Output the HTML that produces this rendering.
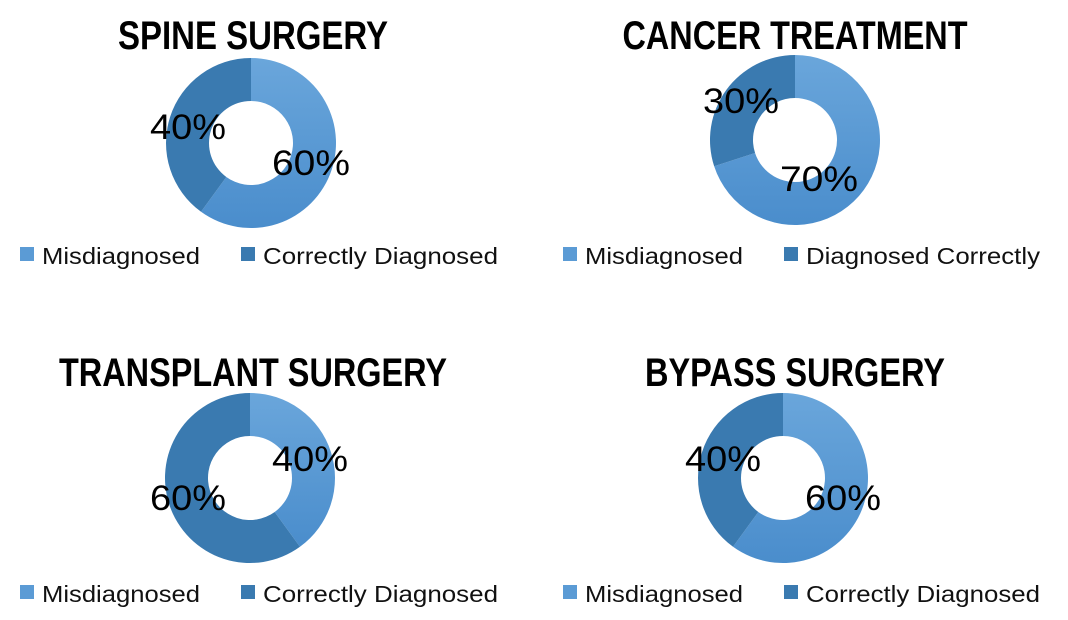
<!DOCTYPE html>
<html><head><meta charset="utf-8"><style>
html,body{margin:0;padding:0;background:#fff;}
svg{display:block}
.t{font-family:"Liberation Sans Narrow","Liberation Sans",sans-serif;font-weight:bold;font-size:40px;fill:#000;text-anchor:middle}
.p{font-family:"Liberation Sans",sans-serif;font-size:35px;fill:#000}
.l{font-family:"Liberation Sans",sans-serif;font-size:23px;fill:#111}
</style></head><body>
<svg id="s" width="1068" height="620" viewBox="0 0 1068 620" xmlns="http://www.w3.org/2000/svg">
<defs>
<linearGradient id="lg" x1="0" y1="0" x2="0" y2="1"><stop offset="0" stop-color="#6aa6db"/><stop offset="1" stop-color="#4a8dcc"/></linearGradient>
</defs>
<g id="d"></g>
<text class="t" x="253" y="49" textLength="270" lengthAdjust="spacingAndGlyphs">SPINE SURGERY</text>
<text class="t" x="795" y="49" textLength="345" lengthAdjust="spacingAndGlyphs">CANCER TREATMENT</text>
<text class="t" x="253" y="386" textLength="388" lengthAdjust="spacingAndGlyphs">TRANSPLANT SURGERY</text>
<text class="t" x="795" y="386" textLength="300" lengthAdjust="spacingAndGlyphs">BYPASS SURGERY</text>

<text class="p" x="150" y="139" textLength="76" lengthAdjust="spacingAndGlyphs">40%</text>
<text class="p" x="272" y="175" textLength="78" lengthAdjust="spacingAndGlyphs">60%</text>
<text class="p" x="703" y="113" textLength="76" lengthAdjust="spacingAndGlyphs">30%</text>
<text class="p" x="780" y="191" textLength="78" lengthAdjust="spacingAndGlyphs">70%</text>
<text class="p" x="272" y="471" textLength="76" lengthAdjust="spacingAndGlyphs">40%</text>
<text class="p" x="150" y="510" textLength="76" lengthAdjust="spacingAndGlyphs">60%</text>
<text class="p" x="685" y="471" textLength="76" lengthAdjust="spacingAndGlyphs">40%</text>
<text class="p" x="805" y="510" textLength="76" lengthAdjust="spacingAndGlyphs">60%</text>

<g>
<rect x="20" y="247" width="14" height="14" fill="#5b9bd5"/><text class="l" x="42" y="264" textLength="158" lengthAdjust="spacingAndGlyphs">Misdiagnosed</text>
<rect x="241" y="247" width="14" height="14" fill="#3a7ab0"/><text class="l" x="263" y="264" textLength="235" lengthAdjust="spacingAndGlyphs">Correctly Diagnosed</text>
<rect x="563" y="247" width="14" height="14" fill="#5b9bd5"/><text class="l" x="585" y="264" textLength="158" lengthAdjust="spacingAndGlyphs">Misdiagnosed</text>
<rect x="784" y="247" width="14" height="14" fill="#3a7ab0"/><text class="l" x="806" y="264" textLength="234" lengthAdjust="spacingAndGlyphs">Diagnosed Correctly</text>
<rect x="20" y="585" width="14" height="14" fill="#5b9bd5"/><text class="l" x="42" y="602" textLength="158" lengthAdjust="spacingAndGlyphs">Misdiagnosed</text>
<rect x="241" y="585" width="14" height="14" fill="#3a7ab0"/><text class="l" x="263" y="602" textLength="235" lengthAdjust="spacingAndGlyphs">Correctly Diagnosed</text>
<rect x="563" y="585" width="14" height="14" fill="#5b9bd5"/><text class="l" x="585" y="602" textLength="158" lengthAdjust="spacingAndGlyphs">Misdiagnosed</text>
<rect x="784" y="585" width="14" height="14" fill="#3a7ab0"/><text class="l" x="806" y="602" textLength="234" lengthAdjust="spacingAndGlyphs">Correctly Diagnosed</text>
</g>
</svg>
<script>
function arc(cx,cy,R,r,a0,a1){
 function pt(rad,a){var t=(a-90)*Math.PI/180;return [cx+rad*Math.cos(t),cy+rad*Math.sin(t)];}
 var L=(a1-a0)>180?1:0;var p1=pt(R,a0),p2=pt(R,a1),p3=pt(r,a1),p4=pt(r,a0);
 return "M"+p1+" A"+R+","+R+" 0 "+L+" 1 "+p2+" L"+p3+" A"+r+","+r+" 0 "+L+" 0 "+p4+"Z";
}
var g=document.getElementById('d'),h="";
[[251,143,0.6],[795,140,0.7],[250,478,0.4],[783,478,0.6]].forEach(function(c){
 var a=c[2]*360;
 h+='<path d="'+arc(c[0],c[1],85,42,0,a)+'" fill="url(#lg)"/>';
 h+='<path d="'+arc(c[0],c[1],85,42,a,360)+'" fill="#3a7ab0"/>';
});
g.innerHTML=h;
</script>
</body></html>
